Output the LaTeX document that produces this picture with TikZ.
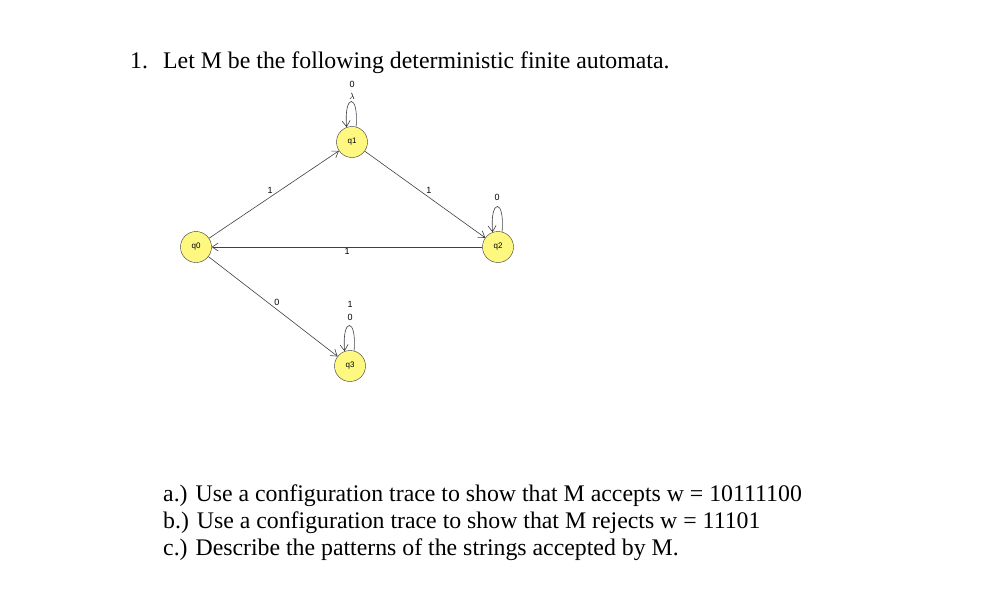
\documentclass[tikz,border=0pt]{standalone}
\usepackage{fontspec}
\setmainfont{Liberation Serif}
\newfontfamily\lab{Liberation Sans}
\usetikzlibrary{arrows.meta}
\begin{document}
\begin{tikzpicture}[x=1pt,y=-1pt,
  st/.style={circle,draw=black!80,fill=yellow!50,minimum size=31pt,inner sep=0pt,font=\lab\fontsize{8}{9}\selectfont},
  tr/.style={draw=black!75,line width=0.6pt,-{Straight Barb[length=6pt,width=8pt]}},
  el/.style={font=\lab\fontsize{9}{10}\selectfont,inner sep=1pt},
  txt/.style={font=\fontsize{23.8}{27}\selectfont,anchor=base west,inner sep=0pt}]
\useasboundingbox (0,0) rectangle (994,592);
\node[txt] (t0) at (130,68) {1.};
\node[txt] (t1) at (163,68) {Let M be the following deterministic finite automata.};
\node (q0) [st] at (196,247) {q0};
\node (q1) [st] at (352,142) {q1};
\node (q2) [st] at (498,247) {q2};
\node (q3) [st] at (350,366) {q3};
\draw[tr] (q0) -- node[el,above left] {1} (q1);
\draw[tr] (q1) -- node[el,above right] {1} (q2);
\draw[tr] (q2) -- node[el,below] {1} (q0);
\draw[tr] (q0) -- node[el,above right] {0} (q3);
\draw[tr] (q1.75) .. controls +(3,-34) and +(-3,-34) .. (q1.110);
\node[el] (l1b) at (352,84) {0};
\node[el] (l1a) at (352,96) {$\lambda$};
\draw[tr] (q2.75) .. controls +(3,-34) and +(-3,-34) .. (q2.110);
\node[el] (l2) at (497,197) {0};
\draw[tr] (q3.75) .. controls +(3,-34) and +(-3,-34) .. (q3.110);
\node[el] (l3b) at (350,304) {1};
\node[el] (l3a) at (350,317) {0};
\node[txt] (a) at (163,501) {a.) Use a configuration trace to show that M accepts w = 10111100};
\node[txt] (b) at (163,528) {b.) Use a configuration trace to show that M rejects w = 11101};
\node[txt] (c) at (163,555) {c.) Describe the patterns of the strings accepted by M.};
\end{tikzpicture}
\end{document}
